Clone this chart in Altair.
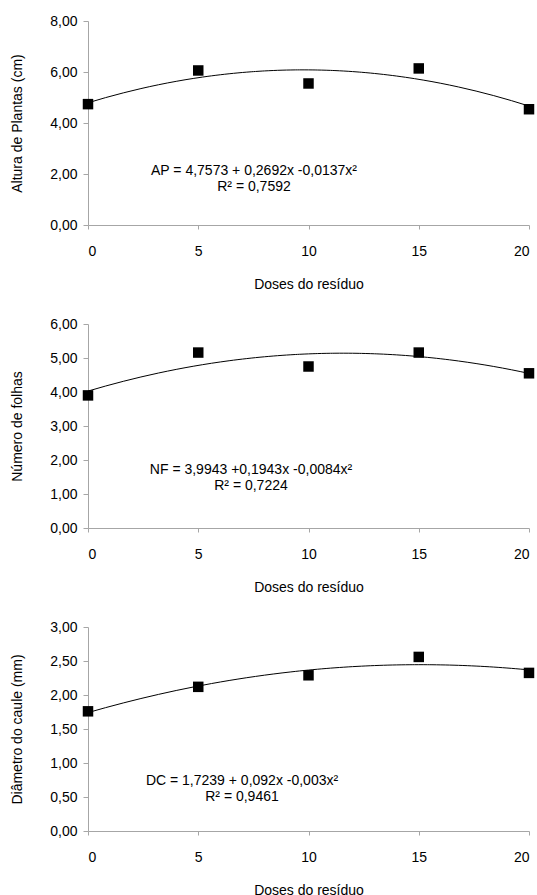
import altair as alt
import pandas as pd

doses = [0, 5, 10, 15, 20]
altura = [4.74, 6.06, 5.55, 6.14, 4.54]
folhas = [3.90, 5.16, 4.75, 5.16, 4.55]
diametro = [1.76, 2.12, 2.29, 2.56, 2.325]

y_titles = ["Altura de Plantas (cm)", "Número de folhas", "Diâmetro do caule (mm)"]
x_title = "Doses do resíduo"
y_ticks = [[0, 2, 4, 6, 8], [0, 1, 2, 3, 4, 5, 6], [0, 0.5, 1, 1.5, 2, 2.5, 3]]
y_max = [8, 6, 3]
equations = [
    "AP = 4,7573 + 0,2692x  -0,0137x²\nR² = 0,7592",
    "NF = 3,9943 +0,1943x  -0,0084x²\nR² = 0,7224",
    "DC = 1,7239 + 0,092x  -0,003x²\nR² = 0,9461",
]
eq_pos = [(166, 150), (163, 146), (154, 154)]

FONT = "Liberation Sans"
FS = 14
W, H = 441, 204


def panel(values, ytitle, yt, ymax, eq, pos):
    df = pd.DataFrame({"dose": doses, "val": values})
    base = alt.Chart(df)
    xenc = alt.X(
        "dose:Q",
        title=x_title,
        scale=alt.Scale(domain=[0, 20], nice=False, zero=False),
        axis=alt.Axis(values=doses, format="d", labelPadding=15, titlePadding=19,
                      tickSize=4, labelOverlap=False),
    )
    yenc = alt.Y(
        "val:Q",
        title=ytitle,
        scale=alt.Scale(domain=[0, ymax], nice=False),
        axis=alt.Axis(values=yt, labelExpr="replace(format(datum.value, '.2f'), '.', ',')",
                      labelPadding=6, titlePadding=25, tickSize=5, labelOverlap=False),
    )
    line = base.transform_regression(
        "dose", "val", method="poly", order=2, extent=[0, 20]
    ).mark_line(color="black", strokeWidth=1).encode(x=xenc, y=yenc)
    pts = base.mark_point(shape="square", filled=True, color="black", size=110, opacity=1).encode(
        x=xenc, y=yenc
    )
    tdf = pd.DataFrame({"t": [eq]})
    txt = alt.Chart(tdf).mark_text(
        font=FONT, fontSize=FS, align="center", baseline="middle", lineBreak="\n",
        lineHeight=16, color="black"
    ).encode(text="t:N", x=alt.value(pos[0]), y=alt.value(pos[1]))
    return alt.layer(line, pts, txt).properties(width=W, height=H)


charts = [panel(v, t, yt, m, e, p) for v, t, yt, m, e, p in
          zip([altura, folhas, diametro], y_titles, y_ticks, y_max, equations, eq_pos)]

chart = alt.vconcat(*charts, spacing=26).properties(
    padding={"left": 10, "top": 14, "right": 2, "bottom": 0},
    background="white",
).configure_view(stroke=None).configure_axis(
    domainColor="#a6a6a6", tickColor="#a6a6a6", grid=False,
    labelFont=FONT, titleFont=FONT, labelFontSize=FS, titleFontSize=FS,
    labelColor="black", titleColor="black", titleFontWeight="normal"
)

chart.save("out.html", embed_options={"renderer": "svg", "actions": False})
